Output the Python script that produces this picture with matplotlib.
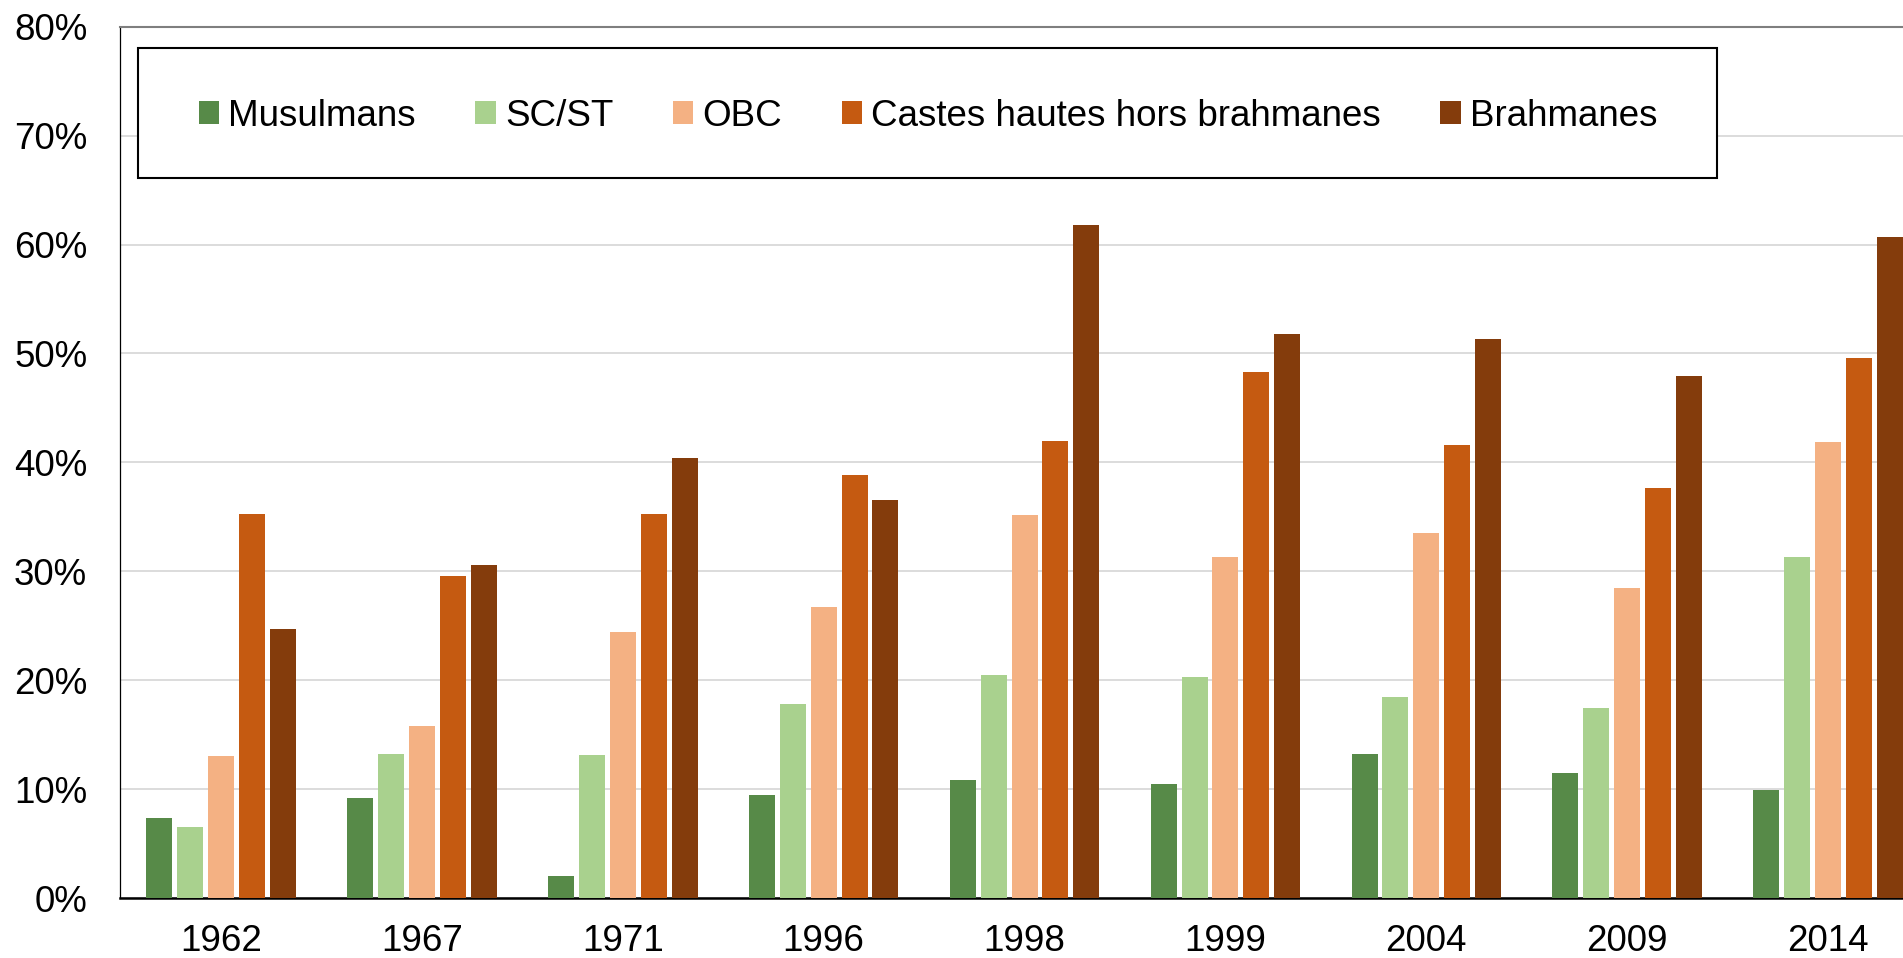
import matplotlib
matplotlib.use("Agg")
import matplotlib.pyplot as plt
from matplotlib.patches import Rectangle
from matplotlib.ticker import FuncFormatter
import numpy as np

years = ["1962", "1967", "1971", "1996", "1998", "1999", "2004", "2009", "2014"]
series_names = ["Musulmans", "SC/ST", "OBC", "Castes hautes hors brahmanes", "Brahmanes"]
musulmans = [7.3, 9.2, 2.0, 9.5, 10.8, 10.5, 13.2, 11.5, 9.9]
sc_st = [6.5, 13.2, 13.1, 17.8, 20.5, 20.3, 18.5, 17.4, 31.3]
obc = [13.0, 15.8, 24.4, 26.7, 35.2, 31.3, 33.5, 28.5, 41.9]
castes_hautes = [35.3, 29.6, 35.3, 38.8, 42.0, 48.3, 41.6, 37.6, 49.6]
brahmanes = [24.7, 30.6, 40.4, 36.5, 61.8, 51.8, 51.3, 47.9, 60.7]
colors = ["#578A48", "#A9D18E", "#F4B183", "#C55A11", "#843C0C"]

plt.rcParams['font.family'] = ['Liberation Sans', 'DejaVu Sans']
FS = 26.5

W, H = 1903, 958
fig = plt.figure(figsize=(W / 100, H / 100), dpi=100)
ax_left, ax_right, ax_top, ax_bot = 120.5, 1928.6, 26.7, 898.0
ax = fig.add_axes([ax_left / W, (H - ax_bot) / H, (ax_right - ax_left) / W, (ax_bot - ax_top) / H])

data = [musulmans, sc_st, obc, castes_hautes, brahmanes]
x = np.arange(len(years))
pitch = 0.1538
width = 0.129
handles = []
for i, (vals, c, name) in enumerate(zip(data, colors, series_names)):
    b = ax.bar(x + (i - 2) * pitch, vals, width=width, color=c, label=name, zorder=3)
    handles.append(b)

ax.set_xlim(-0.5, len(years) - 0.5)
ax.set_ylim(0, 80)
ax.set_yticks(np.arange(0, 81, 10))
ax.yaxis.set_major_formatter(FuncFormatter(lambda v, p: f"{int(v)}%"))
ax.set_xticks(x)
ax.set_xticklabels(years)
ax.tick_params(axis='both', length=0, labelsize=FS)
ax.tick_params(axis='y', pad=24)
ax.tick_params(axis='x', pad=19)
ax.grid(axis='y', color='#D9D9D9', linewidth=1.3, zorder=0)
ax.set_axisbelow(True)
ax.spines['top'].set_color('#7F7F7F')
ax.spines['top'].set_linewidth(1.5)
ax.spines['left'].set_color('black')
ax.spines['left'].set_linewidth(0.9)
ax.spines['bottom'].set_color('black')
ax.spines['bottom'].set_linewidth(1.8)
ax.spines['right'].set_visible(False)

# legend frame
fig.patches.append(Rectangle((137.5 / W, (H - 177.7) / H), (1716.5 - 137.5) / W, (177.7 - 47.7) / H,
                             transform=fig.transFigure, facecolor='white', edgecolor='black',
                             linewidth=1.5, zorder=5))
leg = fig.legend(handles=handles, labels=series_names, loc='center left',
                 bbox_to_anchor=(198.7 / W, (H - 116.0) / H), ncol=5, frameon=False,
                 fontsize=FS, handlelength=0.55, handleheight=0.58, handletextpad=0.25,
                 columnspacing=1.62, borderpad=0, borderaxespad=0)
leg.set_zorder(6)

fig.savefig("out.png", dpi=100)
